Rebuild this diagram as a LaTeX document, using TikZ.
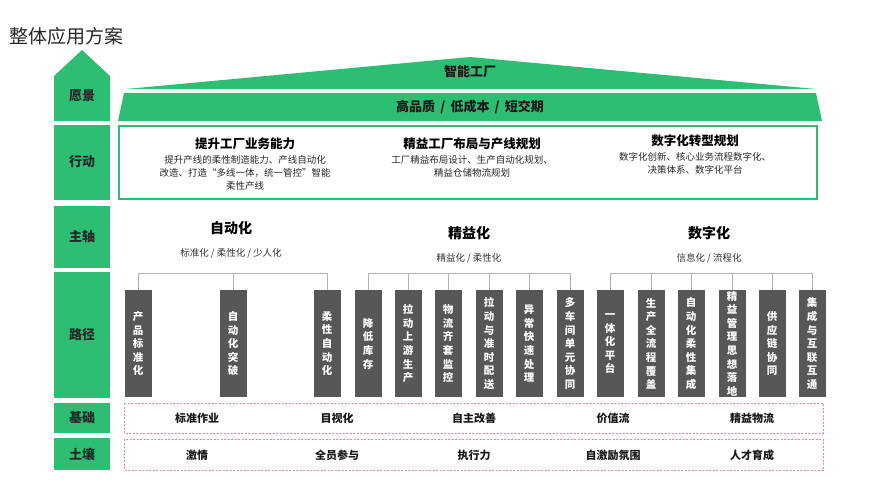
\documentclass[tikz,border=0pt]{standalone}
\usepackage{fontspec}
\setmainfont{Noto Sans CJK SC}
\begin{document}
\begin{tikzpicture}[x=1pt,y=-1pt,
  tab/.style={fill=gr,draw=none},
  tabtxt/.style={font=\bfseries\fontsize{13}{15}\selectfont,text=black!85},
  bar/.style={fill=bg,draw=none,minimum width=27pt,minimum height=107pt,inner sep=0pt,anchor=north},
  bartxt/.style={text=white,font=\bfseries\fontsize{10.5}{13.6}\selectfont,align=center},
  brk/.style={draw=black!30,line width=0.8pt},
  pink/.style={draw=pk,dashed,line width=0.7pt,dash pattern=on 2pt off 1.5pt},
  ft/.style={font=\bfseries\fontsize{11}{13}\selectfont,text=black!90}]
\definecolor{gr}{HTML}{2DBD73}
\definecolor{bg}{HTML}{575757}
\definecolor{pk}{HTML}{E8889A}
\useasboundingbox (0,0) rectangle (888,500);
\node[anchor=west,font=\fontsize{19}{22}\selectfont,text=black!85] (title) at (6,36) {整体应用方案};
% left tabs
\fill[tab] (54,76) -- (82,50) -- (110,76) -- (110,121) -- (54,121) -- cycle;
\node[tabtxt] (t1) at (82,96) {愿景};
\fill[tab] (54,125) rectangle (110,200); \node[tabtxt] (t2) at (82,162) {行动};
\fill[tab] (54,206) rectangle (110,268); \node[tabtxt] (t3) at (82,237) {主轴};
\fill[tab] (54,272) rectangle (110,398); \node[tabtxt] (t4) at (82,335) {路径};
\fill[tab] (54,403) rectangle (110,433); \node[tabtxt] (t5) at (82,418) {基础};
\fill[tab] (54,438) rectangle (110,470); \node[tabtxt] (t6) at (82,454) {土壤};
% roof
\fill[gr] (126,89) -- (470,57) -- (816,89) -- cycle;
\node[font=\bfseries\fontsize{13}{15}\selectfont,text=black!90] (r1) at (470,72) {智能工厂};
\fill[gr] (124,93) -- (816,93) -- (822,121) -- (118,121) -- cycle;
\node[font=\bfseries\fontsize{13}{15}\selectfont,text=black!90] (r2) at (470,107) {高品质 \,/\, 低成本 \,/\, 短交期};
% action box
\draw[gr,line width=2pt] (119,126) rectangle (817,199);
\node[font=\bfseries\fontsize{12.5}{14}\selectfont] (a1) at (245,144) {提升工厂业务能力};
\node[font=\fontsize{9.5}{13}\selectfont,align=center,text=black!85,anchor=north] (d1) at (245,152) {提升产线的柔性制造能力、产线自动化\\改造、打造“多线一体，统一管控”智能\\柔性产线};
\node[font=\bfseries\fontsize{12.5}{14}\selectfont] (a2) at (472,144) {精益工厂布局与产线规划};
\node[font=\fontsize{9.5}{13}\selectfont,align=center,text=black!85,anchor=north] (d2) at (472,152) {工厂精益布局设计、生产自动化规划、\\精益仓储物流规划};
\node[font=\bfseries\fontsize{12.5}{14}\selectfont] (a3) at (695,141) {数字化转型规划};
\node[font=\fontsize{9.5}{13}\selectfont,align=center,text=black!85,anchor=north] (d3) at (695,149) {数字化创新、核心业务流程数字化、\\决策体系、数字化平台};
% axes
\node[font=\bfseries\fontsize{14}{16}\selectfont] (m1) at (231,228) {自动化};
\node[font=\fontsize{9.5}{11}\selectfont,text=black!80] (s1) at (231,253) {标准化 / 柔性化 / 少人化};
\node[font=\bfseries\fontsize{14}{16}\selectfont] (m2) at (469,233) {精益化};
\node[font=\fontsize{9.5}{11}\selectfont,text=black!80] (s2) at (469,258) {精益化 / 柔性化};
\node[font=\bfseries\fontsize{14}{16}\selectfont] (m3) at (709,233) {数字化};
\node[font=\fontsize{9.5}{11}\selectfont,text=black!80] (s3) at (709,258) {信息化 / 流程化};
% bars
\foreach \i/\x/\t in {1/138/产\\品\\标\\准\\化,2/233/自\\动\\化\\突\\破,3/327/柔\\性\\自\\动\\化,4/368/降\\低\\库\\存,5/408/拉\\动\\上\\游\\生\\产,6/448/物\\流\\齐\\套\\监\\控,7/489/拉\\动\\与\\准\\时\\配\\送,8/529/异\\常\\快\\速\\处\\理,9/570/多\\车\\间\\单\\元\\协\\同,10/610/一\\体\\化\\平\\台,11/651/生\\产\\全\\流\\程\\覆\\盖,12/691/自\\动\\化\\柔\\性\\集\\成,13/732/精\\益\\管\\理\\思\\想\\落\\地,14/772/供\\应\\链\\协\\同,15/812/集\\成\\与\\互\\联\\互\\通}{
  \node[bar] (b\i) at (\x,290) {};
  \node[bartxt] at (b\i.center) {\t};
}
\coordinate (g1) at (138,273); \coordinate (g1e) at (327,273);
\coordinate (g2) at (368,273); \coordinate (g2e) at (570,273);
\coordinate (g3) at (610,273); \coordinate (g3e) at (812,273);
\draw[brk] (g1) -- (g1e); \draw[brk] (g2) -- (g2e); \draw[brk] (g3) -- (g3e);
\foreach \i in {1,2,3,4,5,6,7,8,9,10,11,12,13,14,15}{
  \draw[brk] (b\i.north) -- ++(0,-17);
}
% foundations
\draw[pink] (124,403) rectangle (823,433);
\draw[pink] (124,439) rectangle (823,470);
\foreach \n/\x/\t in {1/197/标准作业,2/337/目视化,3/474/自主改善,4/613/价值流,5/752/精益物流}{
  \node[ft] (f\n) at (\x,418) {\t};}
\foreach \n/\x/\t in {1/197/激情 / 斗志,2/337/全员参与,3/474/执行力,4/613/自激励氛围,5/752/人才育成}{
  \node[ft] (h\n) at (\x,455) {\t};}
\end{tikzpicture}
\end{document}
